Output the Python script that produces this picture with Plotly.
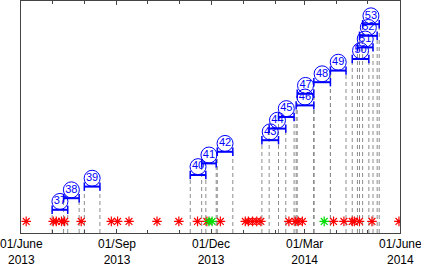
import plotly.graph_objects as go
import pandas as pd

# Events: number, start date, end date
event_ids = [37, 38, 39, 40, 41, 42, 43, 44, 45, 46, 47, 48, 49, 50, 51, 52, 53]
event_start = ["2013-07-01", "2013-07-12", "2013-08-01", "2013-11-11", "2013-11-22",
               "2013-12-07", "2014-01-19", "2014-01-26", "2014-02-04", "2014-02-21",
               "2014-02-22", "2014-03-10", "2014-03-26", "2014-04-16", "2014-04-21",
               "2014-04-23", "2014-04-26"]
event_end = ["2013-07-16", "2013-07-27", "2013-08-16", "2013-11-26", "2013-12-06",
             "2013-12-22", "2014-02-04", "2014-02-11", "2014-02-19", "2014-03-10",
             "2014-03-10", "2014-03-26", "2014-04-10", "2014-05-02", "2014-05-06",
             "2014-05-10", "2014-05-12"]
event_level = [2, 3, 4, 5, 6, 7, 8, 9, 10, 11, 12, 13, 14, 15, 16, 17, 18]

# Red asterisk observations
red_dates = ["2013-06-06", "2013-07-02", "2013-07-05", "2013-07-10", "2013-07-13",
             "2013-07-29", "2013-08-27", "2013-09-02", "2013-09-13", "2013-10-10",
             "2013-10-31", "2013-11-18", "2013-11-27", "2013-12-10", "2014-01-03",
             "2014-01-06", "2014-01-10", "2014-01-14", "2014-01-18", "2014-02-14",
             "2014-02-20", "2014-02-23", "2014-02-27", "2014-03-29", "2014-04-08",
             "2014-04-16", "2014-04-18", "2014-04-23", "2014-05-05", "2014-05-31"]
green_dates = ["2013-11-29", "2013-12-02", "2014-03-20"]
star_level = 1

tick_dates = ["2013-06-01", "2013-09-01", "2013-12-01", "2014-03-01", "2014-06-01"]
tick_text = ["01/June<br>2013", "01/Sep<br>2013", "01/Dec<br>2013",
             "01/Mar<br>2014", "01/June<br>2014"]

BLUE = "#0000ff"
fig = go.Figure()

# dashed vertical lines
dx, dy = [], []
for s, e, lv in zip(event_start, event_end, event_level):
    for d in (s, e):
        dx += [d, d, None]
        dy += [0, lv, None]
fig.add_trace(go.Scatter(x=dx, y=dy, mode="lines",
                         line=dict(color="#8c8c8c", width=1, dash="4px,3px"),
                         hoverinfo="skip", showlegend=False))

# stars
fig.add_trace(go.Scatter(x=red_dates, y=[star_level] * len(red_dates), mode="markers",
                         marker=dict(symbol="asterisk-open", size=8, color="#ff0000",
                                     line=dict(color="#ff0000", width=1.2)),
                         showlegend=False))
fig.add_trace(go.Scatter(x=green_dates, y=[star_level] * len(green_dates), mode="markers",
                         marker=dict(symbol="asterisk-open", size=8, color="#00dd00",
                                     line=dict(color="#00dd00", width=1.2)),
                         showlegend=False))

# bars
for s, e, lv in zip(event_start, event_end, event_level):
    fig.add_trace(go.Scatter(x=[s, e], y=[lv, lv], mode="lines+markers",
                             line=dict(color=BLUE, width=2),
                             marker=dict(symbol="line-ns-open", size=6,
                                         line=dict(color=BLUE, width=1.5)),
                             showlegend=False))

# circled numbers
mids = [pd.Timestamp(s) + (pd.Timestamp(e) - pd.Timestamp(s)) / 2
        for s, e in zip(event_start, event_end)]
fig.add_trace(go.Scatter(x=mids, y=[lv + 0.72 for lv in event_level],
                         mode="markers+text",
                         text=[str(i) for i in event_ids],
                         textposition="middle center",
                         textfont=dict(family="Liberation Sans, Arial", size=11, color=BLUE),
                         marker=dict(symbol="circle-open", size=16,
                                     line=dict(color=BLUE, width=1), color=BLUE),
                         showlegend=False))

# tick labels as annotations below the axis
for d, t in zip(tick_dates, tick_text):
    fig.add_annotation(x=d, y=0, xref="x", yref="paper", text=t, showarrow=False,
                       xanchor="center", yanchor="top", yshift=-2,
                       font=dict(family="Liberation Sans, Arial", size=12, color="black"))

fig.update_layout(
    width=421, height=268,
    margin=dict(l=21, r=21, t=1, b=35),
    plot_bgcolor="white", paper_bgcolor="white",
    font=dict(family="Liberation Sans, Arial", size=12, color="black"),
    xaxis=dict(type="date", range=["2013-06-01", "2014-06-01"],
               tickvals=tick_dates, showticklabels=False,
               ticks="inside", ticklen=4, tickcolor="#444",
               minor=dict(dtick="M1", tick0="2013-06-01", ticks="inside",
                          ticklen=3, tickcolor="#444"),
               showline=True, linecolor="#444", linewidth=1, mirror="ticks",
               showgrid=False, zeroline=False),
    yaxis=dict(range=[0, 20], showticklabels=False, ticks="",
               showline=True, linecolor="#444", linewidth=1, mirror=True,
               showgrid=False, zeroline=False),
)

fig.write_html("out.html", config={"displayModeBar": False},
               post_script="document.body.style.margin='0';document.body.style.overflow='hidden';")
